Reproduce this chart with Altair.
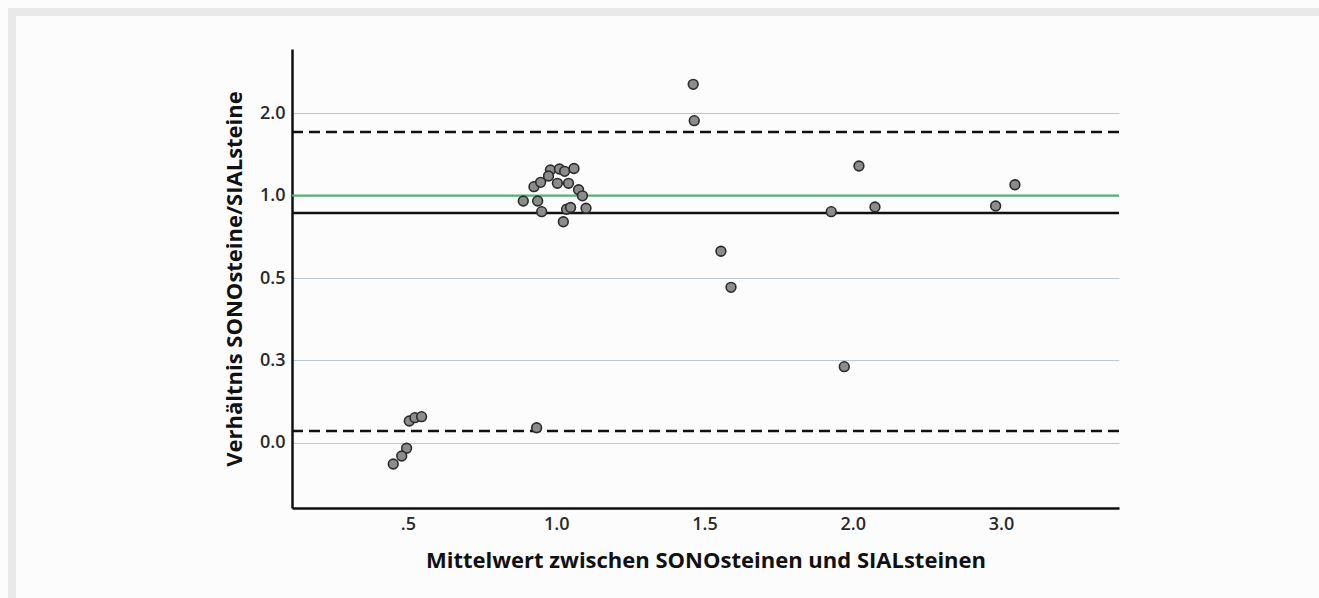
import altair as alt
import pandas as pd

# Tick positions (axis units) and the labels printed at them
x_ticks = [0, 1, 2, 3, 4]
x_tick_labels = [".5", "1.0", "1.5", "2.0", "3.0"]
y_ticks = [0, 1, 2, 3, 4]
y_tick_labels = ["0.0", "0.3", "0.5", "1.0", "2.0"]

# Measurements: mean of both methods (x) against their ratio (y), in axis units
mean_vals = [
    1.924, 1.931, 3.042, 4.094, 2.855, 3.150, 3.964, 2.111, 2.179, 2.943,
    0.009, 0.047, 0.092, -0.009, -0.042, -0.099, 0.868,
    0.778, 0.850, 0.895, 0.875, 0.902, 0.961, 0.948, 1.022, 1.057, 1.120,
    1.008, 1.083, 1.151, 1.177, 1.070, 1.097, 1.201, 1.048,
]
ratio_vals = [
    4.348, 3.907, 3.358, 3.131, 2.804, 2.861, 2.873, 2.324, 1.887, 0.925,
    0.267, 0.307, 0.319, -0.064, -0.158, -0.255, 0.185,
    2.933, 3.107, 3.160, 2.933, 2.804, 3.309, 3.236, 3.321, 3.293, 3.327,
    3.148, 3.148, 3.070, 2.996, 2.834, 2.855, 2.845, 2.682,
]

# Reference lines: limits of agreement, mean ratio, line of identity
loa_vals = [3.770, 0.145]
mean_ratio = [2.788]
identity = [3.0]

points = pd.DataFrame({"x": mean_vals, "y": ratio_vals})

W, H = 827, 459
PAD = {"left": 292, "top": 49, "right": 200, "bottom": 90}

x_label_expr = "[" + ",".join(f"'{s}'" for s in x_tick_labels) + "][datum.value]"
y_label_expr = "[" + ",".join(f"'{s}'" for s in y_tick_labels) + "][datum.value]"

x_scale = alt.Scale(domain=[-0.782, 4.796], nice=False, zero=False)
y_scale = alt.Scale(domain=[-0.788, 4.776], nice=False, zero=False)

FONT = "Open Sans"

x_enc = alt.X(
    "x:Q", scale=x_scale,
    axis=alt.Axis(
        values=x_ticks, labelExpr=x_label_expr, grid=False, ticks=False,
        title="Mittelwert zwischen SONOsteinen und SIALsteinen",
        labelPadding=7, titlePadding=17,
    ),
)
y_enc = alt.Y(
    "y:Q", scale=y_scale,
    axis=alt.Axis(
        values=y_ticks, labelExpr=y_label_expr, grid=True, ticks=False,
        title="Verhältnis SONOsteine/SIALsteine",
        labelPadding=7, titlePadding=13,
    ),
)

# Light frame along the top and left edge of the figure
frame_top = alt.Chart(pd.DataFrame({"k": [0]})).mark_rect(color="#e9e9e9").encode(
    x=alt.value(-PAD["left"] + 8), x2=alt.value(W + PAD["right"]),
    y=alt.value(-PAD["top"] + 8), y2=alt.value(-PAD["top"] + 16),
)
frame_left = alt.Chart(pd.DataFrame({"k": [0]})).mark_rect(color="#e9e9e9").encode(
    x=alt.value(-PAD["left"] + 8), x2=alt.value(-PAD["left"] + 16),
    y=alt.value(-PAD["top"] + 8), y2=alt.value(H + PAD["bottom"]),
)

green = alt.Chart(pd.DataFrame({"y": identity})).mark_rule(
    color="#4bb868", strokeWidth=2
).encode(y=alt.Y("y:Q", scale=y_scale))

solid = alt.Chart(pd.DataFrame({"y": mean_ratio})).mark_rule(
    color="#111111", strokeWidth=2.5
).encode(y=alt.Y("y:Q", scale=y_scale))

dashed = alt.Chart(pd.DataFrame({"y": loa_vals})).mark_rule(
    color="#111111", strokeWidth=2.5, strokeDash=[11, 6]
).encode(y=alt.Y("y:Q", scale=y_scale))

dots = alt.Chart(points).mark_circle(
    size=95, color="#8c8c8c", opacity=1, stroke="#2b2b2b", strokeWidth=1.6
).encode(x=x_enc, y=y_enc)

chart = alt.layer(frame_top, frame_left, green, solid, dashed, dots).properties(
    width=W, height=H,
    padding=PAD,
    autosize=alt.AutoSizeParams(type="none"),
    background="#fcfcfd",
).configure_view(
    stroke=None
).configure_axis(
    domainColor="#111111", domainWidth=2.5,
    gridColor="#b9c9d2", gridWidth=1.2,
    labelFont=FONT, labelFontSize=18, labelFontWeight=600, labelColor="#2a2a2a",
    titleFont=FONT, titleFontSize=22, titleFontWeight="bold", titleColor="#111111",
)

chart.save("out.html", embed_options={"renderer": "svg", "actions": False})
